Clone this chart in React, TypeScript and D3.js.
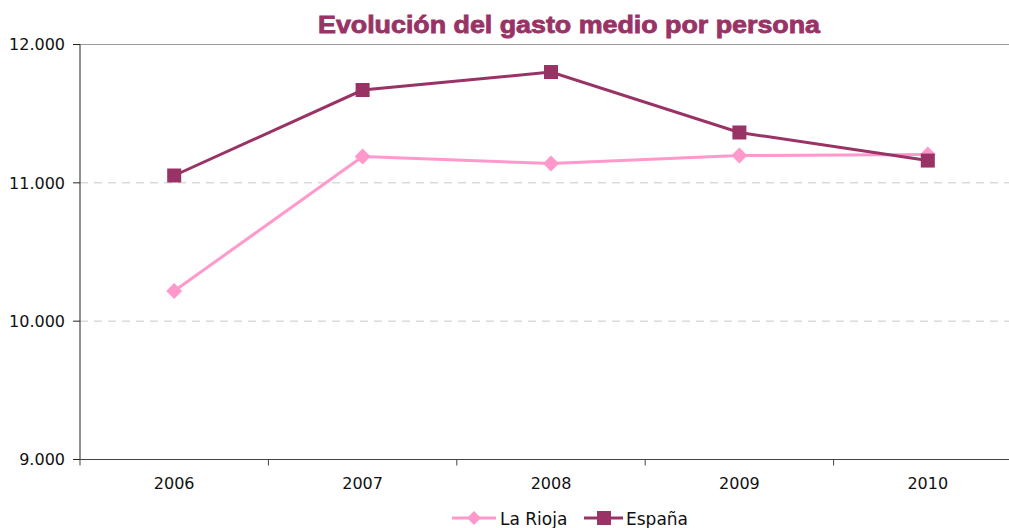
import React from "react";
import * as d3 from "d3";

const years = ["2006", "2007", "2008", "2009", "2010"];
const laRioja = [10218, 11190, 11140, 11197, 11205];
const espana = [11053, 11671, 11801, 11364, 11161];
const yTicks = [9000, 10000, 11000, 12000];
const seriesNames = ["La Rioja", "España"];

const W = 1009;
const H = 528;
const left = 80;
const right = 1022;
const top = 44.5;
const bottom = 459.5;

const fmtTick = (v: number) => {
  const th = Math.floor(v / 1000);
  const rest = v % 1000;
  return `${th}.${String(rest).padStart(3, "0")}`;
};

export default function App() {
  const x = d3.scaleBand<string>().domain(years).range([left, right]);
  const y = d3.scaleLinear().domain([9000, 12000]).range([bottom, top]);
  const cx = (yr: string) => (x(yr) as number) + x.bandwidth() / 2;
  const line = d3
    .line<number>()
    .x((_, i) => cx(years[i]))
    .y((d) => y(d));

  const pink = "#FF99CC";
  const purple = "#993366";
  const font = "'DejaVu Sans', sans-serif";

  const diamond = (px: number, py: number, r: number) =>
    `M${px},${py - r}L${px + r},${py}L${px},${py + r}L${px - r},${py}Z`;

  return (
    <svg
      width={W}
      height={H}
      style={{ position: "absolute", left: 0, top: 0, overflow: "hidden" }}
      fontFamily={font}
    >
      <rect x={0} y={0} width={W} height={H} fill="#fff" />
      <text
        x={318}
        y={33}
        fontSize={23}
        fontWeight="bold"
        fill={purple}
        stroke={purple}
        strokeWidth={0.8}
        fontFamily="'Liberation Sans', Arial, sans-serif"
        textLength={502}
        lengthAdjust="spacingAndGlyphs"
      >
        Evolución del gasto medio por persona
      </text>

      {/* gridlines */}
      {yTicks.map((t) =>
        t === 9000 ? null : (
          <line
            key={t}
            x1={left}
            x2={W}
            y1={y(t)}
            y2={y(t)}
            stroke={t === 12000 ? "#999" : "#c8c8c8"}
            strokeWidth={1}
            strokeDasharray={t === 12000 ? undefined : "8,6"}
          />
        )
      )}

      {/* y axis */}
      <line x1={left} x2={left} y1={top} y2={bottom} stroke="#222" strokeWidth={1} />
      {yTicks.map((t) => (
        <g key={t}>
          <line x1={left - 7} x2={left} y1={y(t)} y2={y(t)} stroke="#222" />
          <text
            x={65}
            y={y(t)}
            dy="0.36em"
            textAnchor="end"
            fontSize={16}
            fill="#111"
          >
            {fmtTick(t)}
          </text>
        </g>
      ))}

      {/* x axis */}
      <line x1={left} x2={W} y1={bottom} y2={bottom} stroke="#444" strokeWidth={1} />
      {years.map((yr) => (
        <g key={yr}>
          <line
            x1={x(yr) as number}
            x2={x(yr) as number}
            y1={bottom}
            y2={bottom + 6}
            stroke="#444"
          />
          <text x={cx(yr)} y={489} textAnchor="middle" fontSize={16} fill="#111">
            {yr}
          </text>
        </g>
      ))}

      {/* La Rioja */}
      <path d={line(laRioja) || ""} fill="none" stroke={pink} strokeWidth={3} />
      {laRioja.map((v, i) => (
        <path key={i} d={diamond(cx(years[i]), y(v), 8)} fill={pink} />
      ))}

      {/* España */}
      <path d={line(espana) || ""} fill="none" stroke={purple} strokeWidth={3} />
      {espana.map((v, i) => (
        <rect
          key={i}
          x={cx(years[i]) - 7}
          y={y(v) - 7}
          width={14}
          height={14}
          fill={purple}
        />
      ))}

      {/* legend */}
      <g>
        <line x1={452} x2={496} y1={518} y2={518} stroke={pink} strokeWidth={3} />
        <path d={diamond(474, 518, 7)} fill={pink} />
        <text x={500} y={525} fontSize={17} fill="#111">
          {seriesNames[0]}
        </text>
        <line x1={584} x2={623} y1={518} y2={518} stroke={purple} strokeWidth={3} />
        <rect x={597} y={511} width={14} height={14} fill={purple} />
        <text x={626} y={525} fontSize={17} fill="#111">
          {seriesNames[1]}
        </text>
      </g>
    </svg>
  );
}
